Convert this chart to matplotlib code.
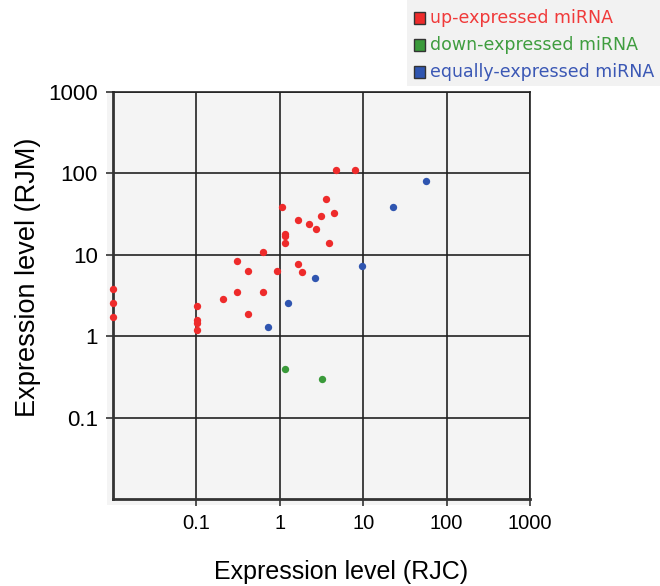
import numpy as np
import matplotlib
matplotlib.use("Agg")
from matplotlib import pyplot as plt
from matplotlib.patches import Rectangle

# 数据
up_rjc = [0.01, 0.01, 0.01, 0.103, 0.103, 0.103, 0.103, 0.207, 0.305, 0.305,
          0.413, 0.413, 0.63, 0.63, 0.93, 1.05, 1.15, 1.15, 1.15, 1.64,
          1.64, 1.87, 2.21, 2.68, 3.08, 3.63, 3.87, 4.45, 4.74, 8.02]
up_rjm = [3.85, 2.59, 1.74, 2.33, 1.59, 1.47, 1.18, 2.87, 3.50, 8.48,
          6.27, 1.86, 10.9, 3.47, 6.27, 38.3, 18.0, 16.9, 13.8, 26.8,
          7.64, 6.10, 24.1, 20.6, 29.7, 48.4, 14.0, 32.6, 110, 110]

down_rjc = [1.15, 3.19]
down_rjm = [0.397, 0.294]

equal_rjc = [0.731, 1.26, 2.61, 9.73, 22.9, 56.0]
equal_rjm = [1.30, 2.59, 5.15, 7.36, 38.3, 81.3]

ticks = [0.1, 1, 10, 100, 1000]
tick_labels = ["0.1", "1", "10", "100", "1000"]

legend_names = ["up-expressed miRNA", "down-expressed miRNA", "equally-expressed miRNA"]
legend_colors = ["#ee2b2b", "#3a9a3a", "#2f55b0"]
legend_text_colors = ["#f03a3a", "#3f9d3f", "#3b58b5"]

W, H = 660, 586
fig = plt.figure(figsize=(W / 100, H / 100), dpi=100)

# 灰色背景 (比坐标轴稍大)
fig.add_artist(Rectangle((107 / W, 1 - 505 / H), (530 - 107) / W, (505 - 92) / H,
                         transform=fig.transFigure, facecolor="#f4f4f4",
                         edgecolor="none", zorder=0))

ax = fig.add_axes([113 / W, 1 - 499 / H, (530 - 113) / W, (499 - 92) / H])
ax.set_facecolor("#f4f4f4")
ax.set_xscale("log")
ax.set_yscale("log")
ax.set_xlim(0.01, 1000)
ax.set_ylim(0.01, 1000)

ax.scatter(up_rjc, up_rjm, s=28, color=legend_colors[0], zorder=3, clip_on=False, linewidths=0)
ax.scatter(down_rjc, down_rjm, s=28, color=legend_colors[1], zorder=3, clip_on=False, linewidths=0)
ax.scatter(equal_rjc, equal_rjm, s=28, color=legend_colors[2], zorder=3, clip_on=False, linewidths=0)

ax.set_xticks(ticks)
ax.set_xticklabels(tick_labels, fontsize=14.5, family="Liberation Sans")
ax.set_yticks(ticks)
ax.set_yticklabels(tick_labels, fontsize=16, family="Liberation Sans")
ax.minorticks_off()
ax.tick_params(axis="both", length=5, width=1.2, color="#333333", pad=6)
ax.grid(True, color="#222222", linewidth=1.2)
ax.set_axisbelow(True)

for side in ["left", "bottom"]:
    ax.spines[side].set_linewidth(2)
    ax.spines[side].set_color("#333333")
for side in ["top", "right"]:
    ax.spines[side].set_linewidth(1.2)
    ax.spines[side].set_color("#222222")

fig.text(341 / W, 1 - 572 / H, "Expression level (RJC)", ha="center", va="center",
         fontsize=18, family="Liberation Sans")
fig.text(28 / W, 1 - 277 / H, "Expression level (RJM)", ha="center", va="center",
         rotation=90, fontsize=19.5, family="Liberation Sans")

# 图例
fig.add_artist(Rectangle((407 / W, 1 - 86 / H), (W - 407) / W, 86 / H,
                         transform=fig.transFigure, facecolor="#f2f2f2",
                         edgecolor="none", zorder=1))
rows = [18, 45, 72]
for i in range(3):
    yc = rows[i]
    fig.add_artist(Rectangle((414 / W, 1 - (yc + 6) / H), 11 / W, 12 / H,
                             transform=fig.transFigure, facecolor=legend_colors[i],
                             edgecolor="#333333", linewidth=1, zorder=2))
    fig.text(430 / W, 1 - yc / H, legend_names[i], ha="left", va="center",
             fontsize=12.5, color=legend_text_colors[i], family="DejaVu Sans", zorder=3)

fig.savefig("out.png", dpi=100)
